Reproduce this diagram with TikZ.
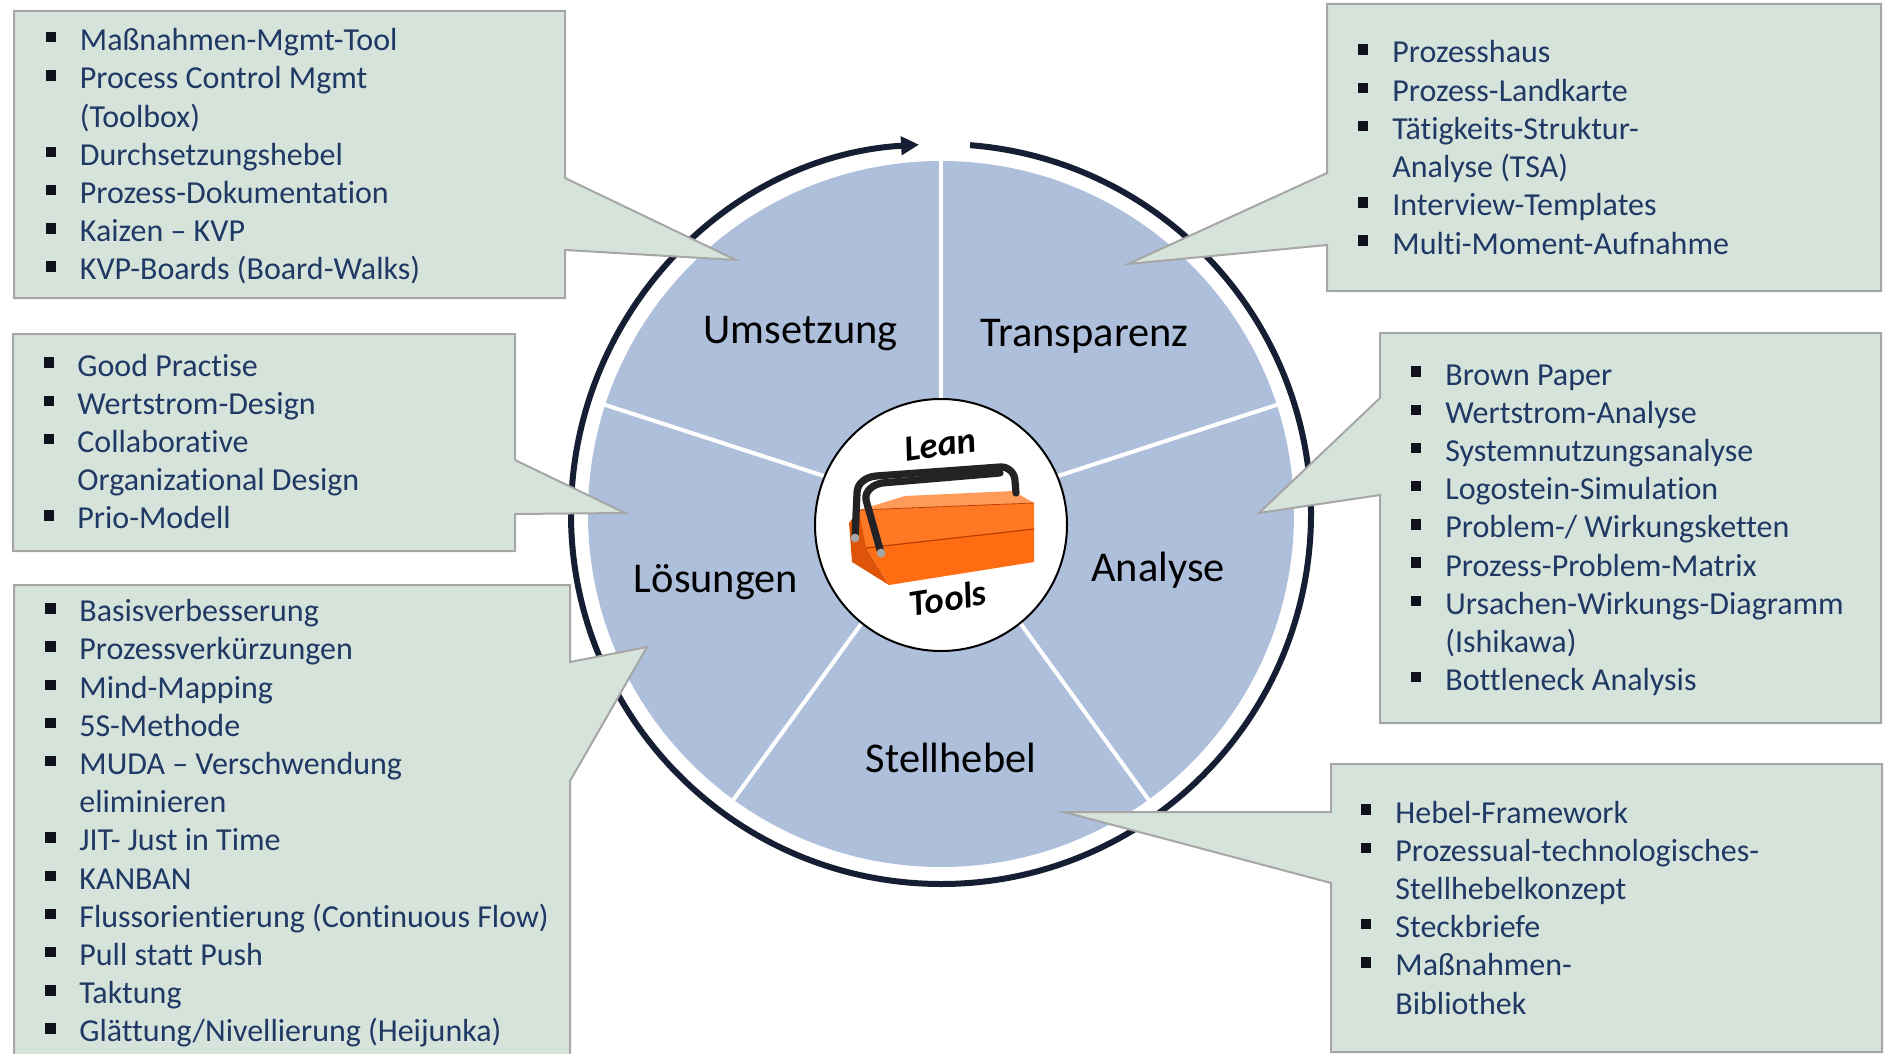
\documentclass[tikz,border=0pt]{standalone}
\usepackage{fontspec}
\setmainfont{Carlito}[Ligatures={NoCommon,NoRequired,NoContextual}]
\usetikzlibrary{arrows.meta}

\definecolor{boxfill}{RGB}{214,227,219}
\definecolor{boxline}{RGB}{166,166,166}
\definecolor{itemblue}{RGB}{31,56,100}
\definecolor{bulletdark}{RGB}{15,17,28}
\definecolor{piefill}{RGB}{174,191,220}
\definecolor{ringnavy}{RGB}{22,30,52}
\definecolor{boxorange}{RGB}{255,108,18}
\definecolor{trayorange}{RGB}{255,120,35}
\definecolor{lidorange}{RGB}{255,155,90}
\definecolor{sideorange}{RGB}{222,84,8}
\definecolor{seamorange}{RGB}{185,62,0}
\definecolor{handledark}{RGB}{35,35,38}

\tikzset{
  callout/.style={fill=boxfill, draw=boxline, line width=1pt, line join=miter},
  itemtext/.style={anchor=base west, inner sep=0pt, text=itemblue,
                   font=\fontsize{16}{19}\selectfont},
  bulletsq/.style={fill=bulletdark, minimum size=5.2pt, inner sep=0pt, draw=none},
  seglabel/.style={anchor=base, inner sep=0pt, font=\fontsize{21.2}{25}\selectfont},
  divider/.style={white, line width=2pt},
  cycle ring/.style={draw=ringnavy, line width=3pt, -{Triangle[length=9pt,width=9pt]}},
  hubtext/.style={inner sep=0pt, font=\bfseries\itshape\fontsize{18.3}{21}\selectfont},
  handlebar/.style={handledark, line width=3.6pt, line cap=round, line join=round},
}

% bullet list: name prefix, bullet x, text x, first baseline y, {kind/text,...}
\newcommand\itemlist[5]{%
  \foreach \mykind/\mytext [count=\myi from 0] in {#5}{%
    \pgfmathsetmacro\myy{#4+38.2*\myi}%
    \node[itemtext] (#1-\myi) at (#3,\myy) {\mytext};%
    \ifnum\mykind=1 \node[bulletsq] (#1-b\myi) at (#2,\myy-13.4) {};\fi
  }}

\begin{document}
\begin{tikzpicture}[x=0.5pt, y=-0.5pt]
\useasboundingbox (0,0) rectangle (1885,1054);
\begin{scope}
\clip (0,0) rectangle (1885,1054);

\coordinate (C) at (941,514);

% circular arrow around the wheel
\draw[cycle ring] ([shift={(85.5:185pt)}]C) arc[start angle=85.5, end angle=-266.6, radius=185pt];

% wheel with five segments
\fill[piefill] (C) circle[radius=176.5pt];
\foreach \a in {18,90,162,234,306}
  \draw[divider] (C) -- ++(\a:180pt);

% hub
\node[circle, fill=white, draw=black, line width=1pt, minimum size=126pt, inner sep=0pt] (hub) at (941,525) {};

% toolbox
\fill[sideorange] (849,523) -- (859,510) -- (867,549) -- (889,585) -- (852,562) -- cycle;
\fill[boxorange] (866,547) -- (1034,528) -- (1034,562) -- (889,585) -- cycle;
\fill[trayorange] (859,510) -- (1034,503) -- (1034,529) -- (866,548) -- cycle;
\fill[lidorange] (859,510) -- (905,496) -- (1013,491) -- (1034,503) -- cycle;
\draw[seamorange, line width=0.6pt] (866,548) -- (1034,529);
\draw[seamorange, line width=0.4pt] (859,510) -- (1034,503);
\draw[handlebar] (855,538) -- (857,493) to[out=90,in=185] (876,476) -- (1000,467) to[out=5,in=90] (1015,481) -- (1016,493);
\draw[handlebar] (881,553) -- (866,500) to[out=100,in=190] (882,483) -- (1000,473);
\fill[gray!70] (855,538) circle[radius=2.2pt];
\fill[gray!70] (881,553) circle[radius=2.2pt];

\node[hubtext, rotate=8.5] (lean) at (940,445) {Lean};
\node[hubtext, rotate=9] (tools) at (948,598) {Tools};

% segment labels
\node[seglabel] (umsetzung) at (800.6,343) {Umsetzung};
\node[seglabel] (transparenz) at (1084.4,346) {Transparenz};
\node[seglabel] (analyse) at (1158,581) {Analyse};
\node[seglabel] (loesungen) at (716,592) {Lösungen};
\node[seglabel] (stellhebel) at (951,772) {Stellhebel};

% callouts
\draw[callout] (14,11) -- (565,11) -- (565,178) -- (736,260) -- (565,250) -- (565,298) -- (14,298) -- cycle;
\draw[callout] (13,334) -- (515,334) -- (515,460) -- (625,513) -- (515,514) -- (515,551) -- (13,551) -- cycle;
\draw[callout] (14,585) -- (570,585) -- (570,662) -- (647,647) -- (570,781) -- (570,1070) -- (14,1070) -- cycle;
\draw[callout] (1327,4) -- (1881,4) -- (1881,291) -- (1327,291) -- (1327,245) -- (1128,264) -- (1327,173) -- cycle;
\draw[callout] (1380,333) -- (1881,333) -- (1881,723) -- (1380,723) -- (1380,495) -- (1259,513) -- (1380,398) -- cycle;
\draw[callout] (1331,764) -- (1882,764) -- (1882,1052) -- (1331,1052) -- (1331,883) -- (1064,812) -- (1331,812) -- cycle;

% callout contents
\itemlist{um}{50.7}{79.5}{50.7}{1/Maßnahmen-Mgmt-Tool, 1/Process Control Mgmt, 0/{(Toolbox)},
  1/Durchsetzungshebel, 1/Prozess-Dokumentation, 1/Kaizen – KVP, 1/{KVP-Boards (Board-Walks)}}
\itemlist{lo}{49}{77}{376}{1/Good Practise, 1/Wertstrom-Design, 1/Collaborative,
  0/Organizational Design, 1/Prio-Modell}
\itemlist{ls}{50.5}{79}{621.7}{1/Basisverbesserung, 1/Prozessverkürzungen, 1/Mind-Mapping,
  1/5S-Methode, 1/MUDA – Verschwendung, 0/eliminieren, 1/JIT- Just in Time, 1/KANBAN,
  1/{Flussorientierung (Continuous Flow)}, 1/Pull statt Push, 1/Taktung,
  1/{Glättung/Nivellierung (Heijunka)}}
\itemlist{tr}{1363}{1392}{63}{1/Prozesshaus, 1/Prozess-Landkarte, 1/Tätigkeits-Struktur-,
  0/{Analyse (TSA)}, 1/Interview-Templates, 1/Multi-Moment-Aufnahme}
\itemlist{an}{1416}{1445}{385}{1/Brown Paper, 1/Wertstrom-Analyse, 1/Systemnutzungsanalyse,
  1/Logostein-Simulation, 1/{Problem-/ Wirkungsketten}, 1/Prozess-Problem-Matrix,
  1/Ursachen-Wirkungs-Diagramm, 0/{(Ishikawa)}, 1/Bottleneck Analysis}
\itemlist{st}{1366}{1395}{823}{1/Hebel-Framework, 1/Prozessual-technologisches-,
  0/Stellhebelkonzept, 1/Steckbriefe, 1/Maßnahmen-, 0/Bibliothek}
\end{scope}
\end{tikzpicture}
\end{document}
